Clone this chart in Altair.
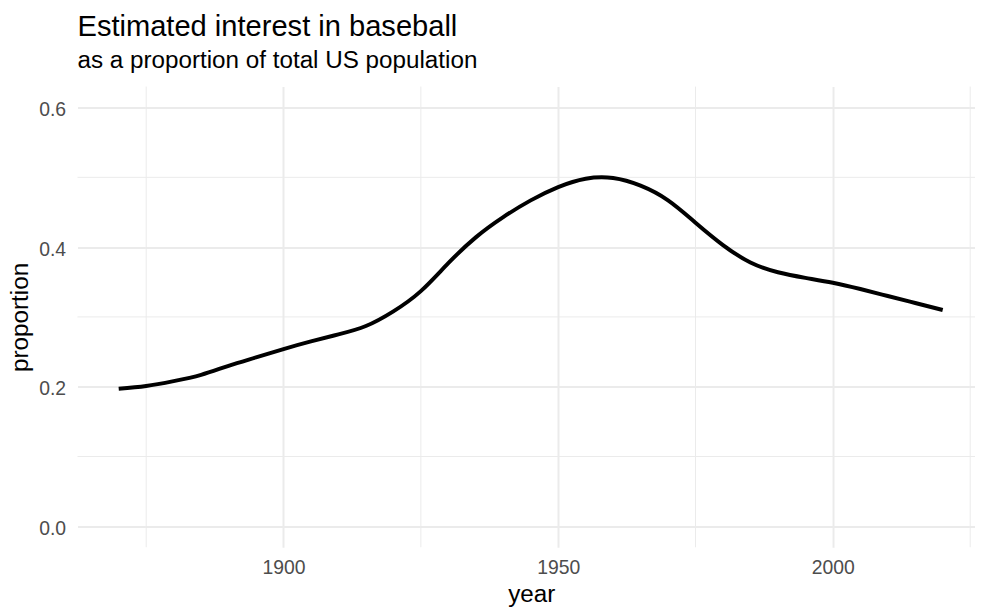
import altair as alt
import pandas as pd

# ---- data ----
years = [1870, 1875, 1880, 1885, 1890, 1895, 1900, 1905, 1910, 1915, 1920,
         1925, 1930, 1935, 1940, 1945, 1950, 1955, 1960, 1965, 1970, 1975,
         1980, 1985, 1990, 1995, 2000, 2005, 2010, 2015, 2020]
proportion = [0.197, 0.201, 0.208, 0.217, 0.230, 0.242, 0.254, 0.265, 0.275,
              0.287, 0.308, 0.337, 0.377, 0.414, 0.443, 0.467, 0.486, 0.498,
              0.499, 0.488, 0.467, 0.435, 0.403, 0.378, 0.364, 0.356, 0.349,
              0.340, 0.330, 0.320, 0.310]

x_major = [1900, 1950, 2000]
x_minor = [1875, 1925, 1975, 2025]
y_major = [0.0, 0.2, 0.4, 0.6]
y_minor = [0.1, 0.3, 0.5]

df = pd.DataFrame({"year": years, "proportion": proportion})

FONT = "Liberation Sans"
GRID = "#EBEBEB"

x_scale = alt.Scale(domain=[1862.5, 2025.88], nice=False, zero=False)
y_scale = alt.Scale(domain=[-0.03, 0.63], nice=False, zero=False)

x_axis = alt.Axis(
    values=x_major, format="d", grid=True, gridColor=GRID, gridWidth=2,
    domain=False, ticks=False, tickSize=0,
    labelFont=FONT, labelFontSize=19.5, labelColor="#4D4D4D",
    labelPadding=26, labelBaseline="alphabetic", labelFlush=False,
    title="year", titleFont=FONT, titleFontSize=24.4, titleFontWeight="normal",
    titleColor="black", titleX=457, titleY=54.3, titleBaseline="alphabetic",
)
y_axis = alt.Axis(
    values=y_major, format=".1f", grid=True, gridColor=GRID, gridWidth=2,
    domain=False, ticks=False, tickSize=0,
    labelFont=FONT, labelFontSize=19.5, labelColor="#4D4D4D",
    labelPadding=12, labelBaseline="alphabetic", labelOffset=8,
    labelFlush=False,
    title="proportion", titleFont=FONT, titleFontSize=24.4,
    titleFontWeight="normal", titleColor="black", titleAngle=270,
    titleX=-50.5, titleY=232, titleBaseline="alphabetic",
)

X = alt.X("year:Q", scale=x_scale, axis=x_axis)
Y = alt.Y("proportion:Q", scale=y_scale, axis=y_axis)

minor_x = alt.Chart(pd.DataFrame({"year": x_minor})).mark_rule(
    color=GRID, strokeWidth=1).encode(x=X)
minor_y = alt.Chart(pd.DataFrame({"proportion": y_minor})).mark_rule(
    color=GRID, strokeWidth=1).encode(y=Y)

line = alt.Chart(df).mark_line(
    color="black", strokeWidth=4, interpolate="natural").encode(x=X, y=Y)

chart = alt.layer(minor_x, minor_y, line).properties(
    width=904,
    height=464,
    background="white",
    padding={"left": 70, "top": 77, "right": 0, "bottom": 58},
    autosize=alt.AutoSizeParams(type="none"),
    title=alt.TitleParams(
        text="Estimated interest in baseball",
        subtitle="as a proportion of total US population",
        anchor="start", frame="group",
        font=FONT, fontSize=29.3, fontWeight="normal", color="black",
        subtitleFont=FONT, subtitleFontSize=24.4, subtitleColor="black",
        subtitleFontWeight="normal", subtitlePadding=7, offset=14,
    ),
).configure_view(strokeWidth=0, stroke=None)

chart.save("out.html", embed_options={"renderer": "svg", "actions": False})
